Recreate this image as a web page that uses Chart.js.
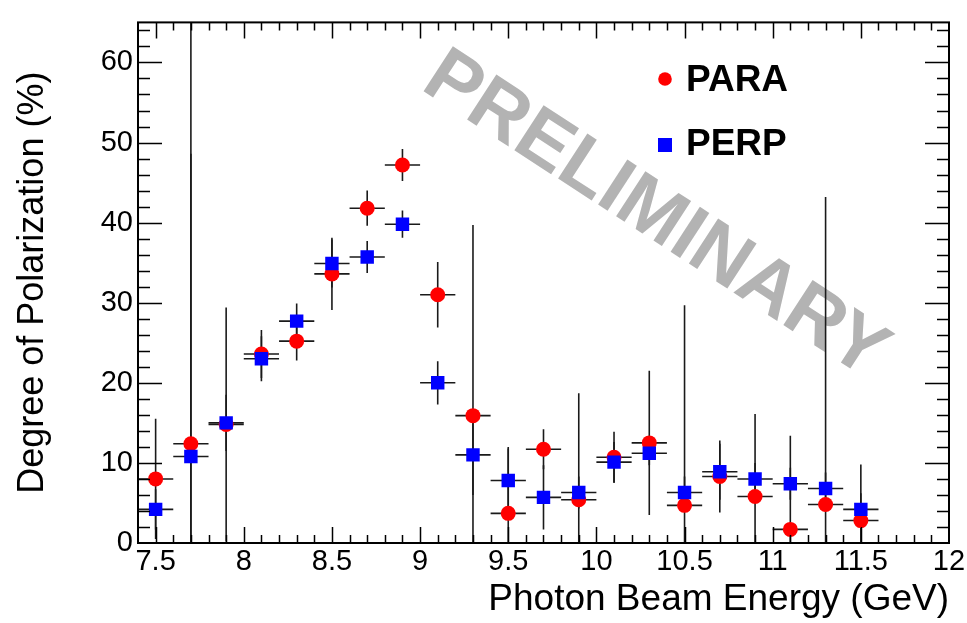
<!DOCTYPE html>
<html>
<head>
<meta charset="utf-8">
<script src="https://cdn.jsdelivr.net/npm/chart.js@4.4.1/dist/chart.umd.min.js"></script>
<style>
  html, body { margin: 0; padding: 0; background: #fff; }
</style>
</head>
<body>
<canvas id="pol-chart" width="967" height="623"></canvas>
<script>
// bin centres (GeV), half bin width is the x error
const energy = [7.5, 7.7, 7.9, 8.1, 8.3, 8.5, 8.7, 8.9, 9.1, 9.3, 9.5, 9.7, 9.9, 10.1, 10.3, 10.5, 10.7, 10.9, 11.1, 11.3, 11.5];
const BIN_HALF = 0.1;

const paraPol = [8.0, 12.4, 14.8, 23.6, 25.2, 33.6, 41.8, 47.2, 31.0, 15.9, 3.7, 11.7, 5.4, 10.7, 12.5, 4.7, 8.3, 5.8, 1.7, 4.8, 2.8];
const paraErr = [7.5, 36.2, 14.6, 3.0, 2.4, 4.5, 2.2, 2.0, 4.1, 23.8, 8.3, 2.5, 13.3, 3.2, 9.0, 25.0, 4.5, 10.3, 11.7, 38.4, 7.0];

const perpPol = [4.2, 10.8, 15.0, 23.0, 27.7, 34.9, 35.7, 39.8, 20.0, 11.0, 7.8, 5.7, 6.3, 10.1, 11.2, 6.3, 8.9, 8.0, 7.4, 6.8, 4.2];
const perpErr = [2.5, 60.0, 3.5, 2.8, 2.2, 3.0, 2.0, 1.7, 2.7, 5.0, 4.0, 4.0, 2.0, 2.5, 1.5, 2.0, 3.5, 2.0, 2.0, 2.0, 2.0];

const FONT = '"Liberation Sans", Arial, Helvetica, sans-serif';

function points(vals) {
  return energy.map((e, i) => ({ x: e, y: vals[i] }));
}

// gray watermark behind the data
const watermark = {
  id: 'watermark',
  beforeDatasetsDraw(chart) {
    const ctx = chart.ctx;
    ctx.save();
    ctx.translate(655, 216);
    ctx.rotate(33 * Math.PI / 180);
    ctx.font = 'bold 78px ' + FONT;
    ctx.fillStyle = '#b3b3b3';
    ctx.textAlign = 'center';
    ctx.textBaseline = 'middle';
    ctx.fillText('PRELIMINARY', 0, 0);
    ctx.restore();
  }
};

// x and y error bars, clipped to the frame
const errorBars = {
  id: 'errorBars',
  beforeDatasetsDraw(chart) {
    const { ctx, chartArea: a, scales: { x, y } } = chart;
    ctx.save();
    ctx.beginPath();
    ctx.rect(a.left, a.top, a.right - a.left, a.bottom - a.top);
    ctx.clip();
    ctx.strokeStyle = '#1a1a1a';
    ctx.lineWidth = 1.6;
    chart.data.datasets.forEach(ds => {
      ds.data.forEach((p, i) => {
        const px = x.getPixelForValue(p.x);
        const py = y.getPixelForValue(p.y);
        ctx.beginPath();
        ctx.moveTo(x.getPixelForValue(p.x - BIN_HALF), py);
        ctx.lineTo(x.getPixelForValue(p.x + BIN_HALF), py);
        ctx.moveTo(px, y.getPixelForValue(p.y - ds.errors[i]));
        ctx.lineTo(px, y.getPixelForValue(p.y + ds.errors[i]));
        ctx.stroke();
      });
    });
    ctx.restore();
  }
};

// ROOT style frame with ticks inside on all four sides
const frame = {
  id: 'frame',
  afterDatasetsDraw(chart) {
    const { ctx, chartArea: a, scales: { x, y } } = chart;
    ctx.save();
    ctx.strokeStyle = '#000';
    ctx.lineWidth = 1.5;
    ctx.beginPath();
    for (let k = Math.ceil(x.min * 10); k <= Math.floor(x.max * 10); k++) {
      const px = Math.round(x.getPixelForValue(k / 10)) + 0.5;
      if (px <= a.left + 1 || px >= a.right - 1) continue;
      const len = k % 5 === 0 ? 16 : 8;
      ctx.moveTo(px, a.bottom); ctx.lineTo(px, a.bottom - len);
      ctx.moveTo(px, a.top); ctx.lineTo(px, a.top + len);
    }
    for (let v = 2; v < y.max; v += 2) {
      const py = Math.round(y.getPixelForValue(v)) + 0.5;
      const len = v % 10 === 0 ? 24 : 12;
      ctx.moveTo(a.left, py); ctx.lineTo(a.left + len, py);
      ctx.moveTo(a.right, py); ctx.lineTo(a.right - len, py);
    }
    ctx.stroke();
    ctx.lineWidth = 2;
    ctx.strokeRect(a.left, a.top, a.right - a.left, a.bottom - a.top);
    ctx.restore();
  }
};

const legendBox = {
  id: 'legendBox',
  afterDraw(chart) {
    const ctx = chart.ctx;
    ctx.save();
    ctx.fillStyle = '#ff0000';
    ctx.beginPath();
    ctx.arc(665, 79, 6.8, 0, Math.PI * 2);
    ctx.fill();
    ctx.fillStyle = '#0000ff';
    ctx.fillRect(658, 138, 14, 14);
    ctx.fillStyle = '#000';
    ctx.font = 'bold 37px ' + FONT;
    ctx.textBaseline = 'middle';
    ctx.fillText('PARA', 686, 81);
    ctx.fillText('PERP', 686, 145);
    ctx.restore();
  }
};

const chart = new Chart(document.getElementById('pol-chart'), {
  type: 'scatter',
  data: {
    datasets: [{
      label: 'PARA',
      data: points(paraPol),
      errors: paraErr,
      pointStyle: 'circle',
      pointRadius: 7.5,
      pointBackgroundColor: '#ff0000',
      pointBorderWidth: 0,
      order: 1
    }, {
      label: 'PERP',
      data: points(perpPol),
      errors: perpErr,
      pointStyle: 'rect',
      pointRadius: 9.5,
      pointBackgroundColor: '#0000ff',
      pointBorderWidth: 0,
      order: 0
    }]
  },
  options: {
    responsive: false,
    animation: false,
    layout: { padding: { left: 0, right: 0, top: 13, bottom: 0 } },
    plugins: {
      legend: { display: false },
      tooltip: { enabled: false }
    },
    scales: {
      x: {
        type: 'linear',
        min: 7.4,
        max: 12,
        grid: { display: false, drawTicks: false },
        border: { display: false },
        ticks: {
          stepSize: 0.5,
          includeBounds: false,
          autoSkip: false,
          maxRotation: 0,
          padding: 2,
          color: '#000',
          font: { family: FONT, size: 29 },
          callback: v => String(+v.toFixed(1))
        },
        title: {
          display: true,
          text: 'Photon Beam Energy (GeV)',
          align: 'end',
          color: '#000',
          font: { family: FONT, size: 37 },
          padding: { top: 0, bottom: 1 }
        },
        afterFit(scale) {
          scale.height = 80;
          scale.paddingLeft = 0;
          scale.paddingRight = 18;
        }
      },
      y: {
        min: 0,
        max: 65,
        grid: { display: false, drawTicks: false },
        border: { display: false },
        ticks: {
          stepSize: 10,
          includeBounds: false,
          padding: 5,
          color: '#000',
          font: { family: FONT, size: 29 }
        },
        title: {
          display: true,
          text: 'Degree of Polarization (%)',
          color: '#000',
          font: { family: FONT, size: 36 },
          padding: { top: 11, bottom: 0 }
        },
        afterFit(scale) { scale.width = 138; }
      }
    }
  },
  plugins: [watermark, errorBars, frame, legendBox]
});
</script>
</body>
</html>
